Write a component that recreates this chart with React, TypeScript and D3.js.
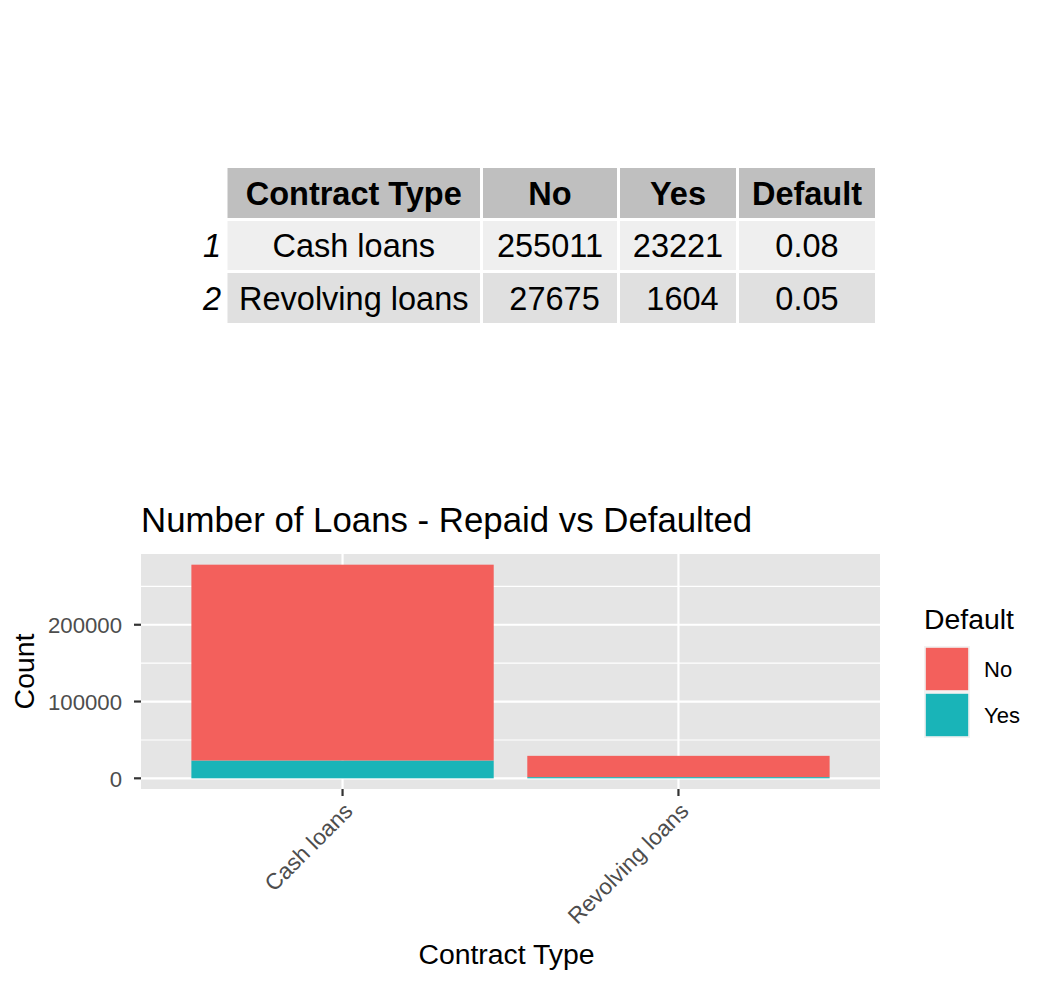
import React from 'react';
import * as d3 from 'd3';

// table / chart data
const contractTypes = ['Cash loans', 'Revolving loans'];
const repaidNo = [255011, 27675];
const defaultedYes = [23221, 1604];
const defaultRate = ['0.08', '0.05'];
const tableHeader = ['Contract Type', 'No', 'Yes', 'Default'];
const yTicks = [0, 100000, 200000];
const yMinorTicks = [50000, 150000, 250000];
const legendKeys = ['No', 'Yes'];

const FONT = "'Liberation Sans', Arial, Helvetica, sans-serif";
const colors: Record<string, string> = { No: '#F3605C', Yes: '#19B4B8' };

const W = 1054;
const H = 984;

// Table layout
const colEdges = [226, 481.5, 618.5, 737.5, 876.5];
const rowEdges = [166.5, 219.5, 271.5, 324.5];
const rowFills = ['#bfbfbf', '#efefef', '#e0e0e0'];
const TABLE_FS = 32.5;

const Table = () => {
  const rows = contractTypes.map((c, i) => [
    c,
    String(repaidNo[i]).padStart(6, ' '),
    String(defaultedYes[i]).padStart(5, ' '),
    defaultRate[i],
  ]);
  const all = [tableHeader, ...rows];
  return (
    <g fontFamily={FONT}>
      {all.map((row, r) =>
        row.map((cell, c) => {
          const x0 = colEdges[c];
          const x1 = colEdges[c + 1];
          const y0 = rowEdges[r];
          const y1 = rowEdges[r + 1];
          return (
            <g key={`${r}-${c}`}>
              <rect x={x0 + 1.5} y={y0 + 1.5} width={x1 - x0 - 3} height={y1 - y0 - 3} fill={rowFills[r]} />
              <text
                x={(x0 + x1) / 2}
                y={(y0 + y1) / 2 + 11.5}
                textAnchor="middle"
                fontSize={TABLE_FS}
                fontWeight={r === 0 ? 'bold' : 'normal'}
                style={{ whiteSpace: 'pre' }}
                fill="#000"
              >
                {cell}
              </text>
            </g>
          );
        })
      )}
      {rows.map((_, i) => (
        <text
          key={i}
          x={221}
          y={(rowEdges[i + 1] + rowEdges[i + 2]) / 2 + 11.5}
          textAnchor="end"
          fontSize={TABLE_FS}
          fontStyle="italic"
        >
          {i + 1}
        </text>
      ))}
    </g>
  );
};

const Chart = () => {
  const panel = { left: 141, right: 880, top: 554, bottom: 789 };
  const totals = contractTypes.map((_, i) => repaidNo[i] + defaultedYes[i]);
  const maxV = d3.max(totals) as number;
  const pad = maxV * 0.05;
  const y = d3.scaleLinear().domain([-pad, maxV + pad]).range([panel.bottom, panel.top]);
  const x = d3.scalePoint<string>().domain(contractTypes).range([panel.left, panel.right]).padding(0.6);
  const barW = x.step() * 0.9;

  const table = contractTypes.map((c, i) => ({ type: c, No: repaidNo[i], Yes: defaultedYes[i] }));
  const series = d3.stack<any>().keys(['Yes', 'No'])(table);

  return (
    <g fontFamily={FONT}>
      <text x={141} y={532} fontSize={34.8} fill="#000">
        Number of Loans - Repaid vs Defaulted
      </text>
      <rect x={panel.left} y={panel.top} width={panel.right - panel.left} height={panel.bottom - panel.top} fill="#e5e5e5" />
      {yMinorTicks.map((t) => (
        <line key={t} x1={panel.left} x2={panel.right} y1={y(t)} y2={y(t)} stroke="#fff" strokeWidth={1.1} />
      ))}
      {yTicks.map((t) => (
        <line key={t} x1={panel.left} x2={panel.right} y1={y(t)} y2={y(t)} stroke="#fff" strokeWidth={2.2} />
      ))}
      {contractTypes.map((c) => (
        <line key={c} x1={x(c)} x2={x(c)} y1={panel.top} y2={panel.bottom} stroke="#fff" strokeWidth={2.2} />
      ))}
      {series.map((s) =>
        s.map((d, i) => (
          <rect
            key={`${s.key}-${i}`}
            x={(x(contractTypes[i]) as number) - barW / 2}
            y={y(d[1])}
            width={barW}
            height={y(d[0]) - y(d[1])}
            fill={colors[s.key]}
          />
        ))
      )}
      {/* y axis */}
      {yTicks.map((t) => (
        <g key={t}>
          <line x1={panel.left - 7} x2={panel.left} y1={y(t)} y2={y(t)} stroke="#333" strokeWidth={2.2} />
          <text x={122} y={y(t) + 8.3} textAnchor="end" fontSize={22.2} fill="#4d4d4d">
            {t}
          </text>
        </g>
      ))}
      {/* x axis */}
      {contractTypes.map((c) => (
        <g key={c}>
          <line x1={x(c)} x2={x(c)} y1={panel.bottom} y2={panel.bottom + 7} stroke="#333" strokeWidth={2.2} />
          <text
            transform={`translate(${x(c)},${panel.bottom + 12}) rotate(-45)`}
            textAnchor="end"
            dy="0.72em"
            fontSize={22.6}
            fill="#4d4d4d"
          >
            {c}
          </text>
        </g>
      ))}
      <text x={(panel.left + panel.right) / 2 - 4} y={963.5} textAnchor="middle" fontSize={28.4} fill="#000">
        Contract Type
      </text>
      <text
        transform={`translate(34,${(panel.top + panel.bottom) / 2}) rotate(-90)`}
        textAnchor="middle"
        fontSize={28.4}
        fill="#000"
      >
        Count
      </text>
      {/* legend */}
      <text x={924} y={629} fontSize={28.4} fill="#000">
        Default
      </text>
      {legendKeys.map((k, i) => (
        <g key={k} transform={`translate(924,${646 + i * 46})`}>
          <rect width={46} height={46} fill="#f2f2f2" />
          <rect x={1.8} y={1.8} width={42.4} height={42.4} fill={colors[k]} />
          <text x={60} y={23 + 8} fontSize={22} fill="#000">
            {k}
          </text>
        </g>
      ))}
    </g>
  );
};

const App = () => (
  <svg
    width={W}
    height={H}
    viewBox={`0 0 ${W} ${H}`}
    style={{ position: 'absolute', left: 0, top: 0, background: '#fff' }}
  >
    <rect width={W} height={H} fill="#fff" />
    <Table />
    <Chart />
  </svg>
);

export default App;
